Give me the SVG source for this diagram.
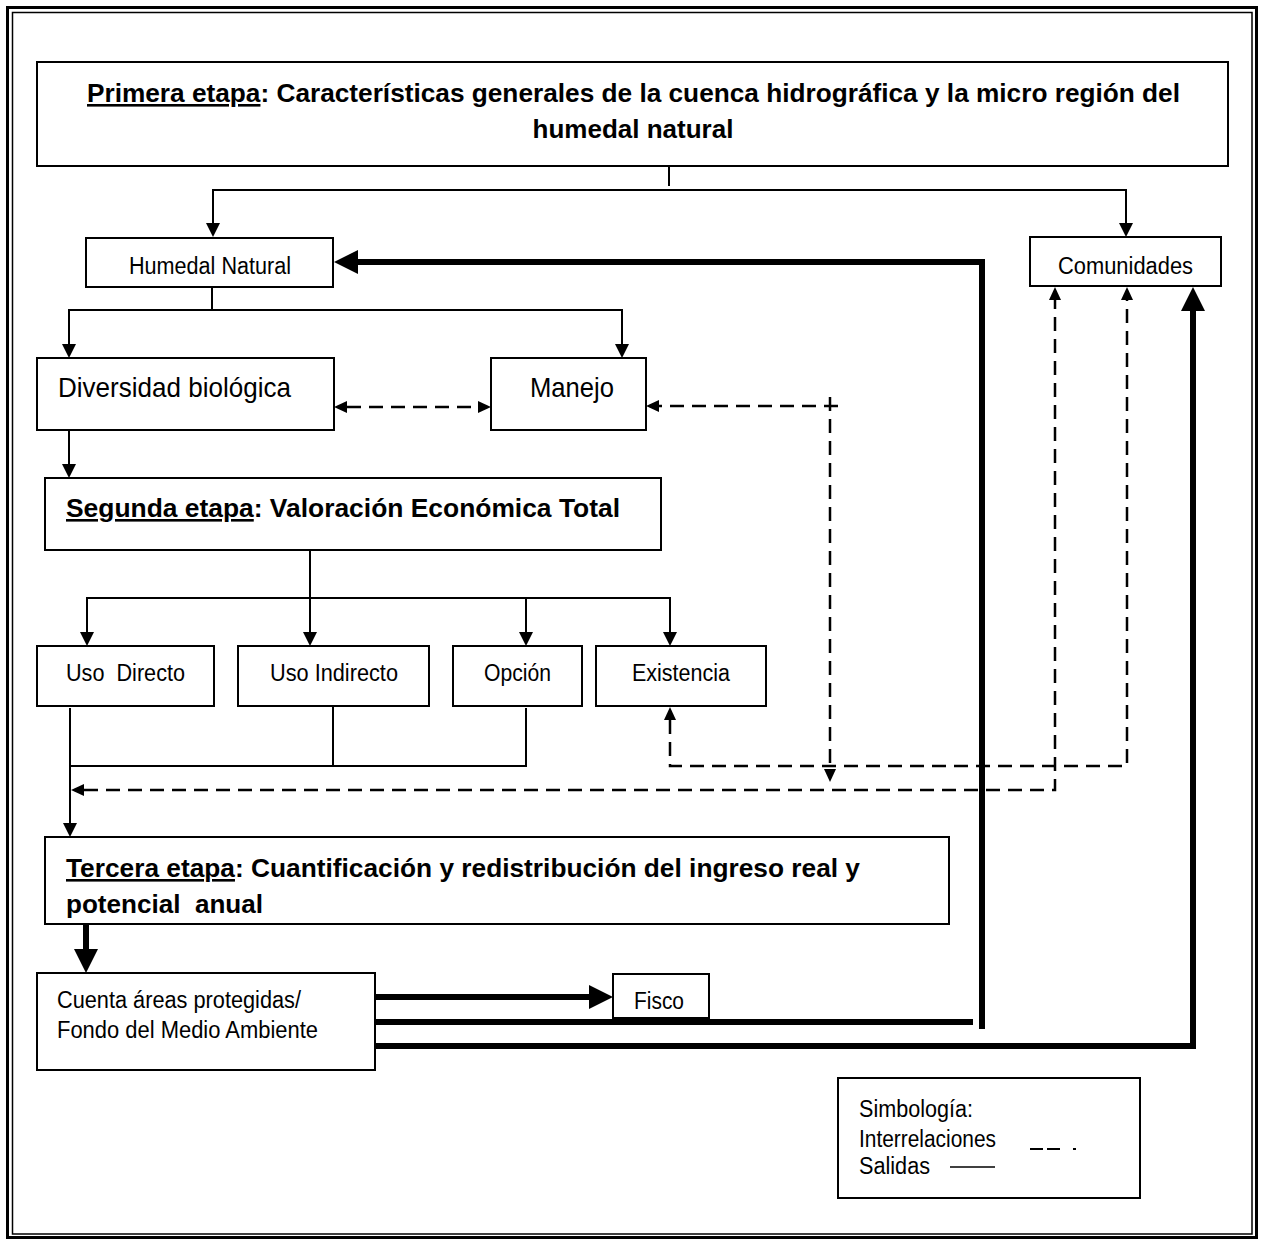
<svg xmlns="http://www.w3.org/2000/svg" width="1267" height="1240" viewBox="0 0 1267 1240">
<style>
.box{fill:#fff;stroke:#000;stroke-width:2}
.t{font-family:"Liberation Sans",Arial,sans-serif;font-size:23px;fill:#000}
.tm{font-size:28px}
.tb{font-weight:bold;font-size:26px}
.pre{white-space:pre}
.u{text-decoration:underline}
.thin{fill:none;stroke:#000;stroke-width:2}
.dash{fill:none;stroke:#000;stroke-width:2.5;stroke-dasharray:14 8}
.thick{fill:none;stroke:#000;stroke-width:6}
.ah{fill:#000;stroke:none}
</style>
<defs>
<marker id="aThin" markerUnits="userSpaceOnUse" markerWidth="14" markerHeight="14" viewBox="0 0 14 14" refX="0" refY="7" orient="auto-start-reverse"><path class="ah" d="M0,0 L14,7 L0,14 Z"/></marker>
<marker id="aDash" markerUnits="userSpaceOnUse" markerWidth="13" markerHeight="12" viewBox="0 0 13 12" refX="0" refY="6" orient="auto-start-reverse"><path class="ah" d="M0,0 L13,6 L0,12 Z"/></marker>
<marker id="aThick" markerUnits="userSpaceOnUse" markerWidth="24" markerHeight="24" viewBox="0 0 24 24" refX="0" refY="12" orient="auto-start-reverse"><path class="ah" d="M0,0 L24,12 L0,24 Z"/></marker>
</defs>
<rect width="1267" height="1240" fill="#fff"/>
<rect x="7.5" y="7.5" width="1249" height="1230" fill="none" stroke="#000" stroke-width="3"/>
<rect x="12.5" y="12.5" width="1239.5" height="1221.5" fill="none" stroke="#000" stroke-width="1.5"/>

<g id="connectors">
<path class="thin" d="M669,166 V186"/>
<path class="thin" d="M669,190 H213 V223" marker-end="url(#aThin)"/>
<path class="thin" d="M669,190 H1126 V223" marker-end="url(#aThin)"/>
<path class="thin" d="M212,287 V310 H69 V344" marker-end="url(#aThin)"/>
<path class="thin" d="M212,310 H622 V344" marker-end="url(#aThin)"/>
<path class="thin" d="M69,430 V464" marker-end="url(#aThin)"/>
<path class="thin" d="M310,550 V598 H87 V632" marker-end="url(#aThin)"/>
<path class="thin" d="M310,598 V632" marker-end="url(#aThin)"/>
<path class="thin" d="M310,598 H670 V632" marker-end="url(#aThin)"/>
<path class="thin" d="M526,598 V632" marker-end="url(#aThin)"/>
<path class="thin" d="M70,708 V823" marker-end="url(#aThin)"/>
<path class="thin" d="M333,694 V766 H70"/>
<path class="thin" d="M526,708 V766 H333"/>

<path class="dash" d="M347,407 H478" marker-start="url(#aDash)" marker-end="url(#aDash)"/>
<path class="dash" d="M838,406 H659" marker-end="url(#aDash)"/>
<path class="dash" d="M830,397 V769" marker-end="url(#aDash)"/>
<path class="dash" d="M84,790 H1055 V300" marker-start="url(#aDash)" marker-end="url(#aDash)"/>
<path class="dash" d="M670,720 V766 H1127 V300" marker-start="url(#aDash)" marker-end="url(#aDash)"/>

<path class="thick" d="M982,1029 V262 H358" marker-end="url(#aThick)"/>
<path class="thick" d="M375,1022 H973"/>
<path class="thick" d="M375,997 H589" marker-end="url(#aThick)"/>
<path class="thick" d="M375,1046 H1193 V311" marker-end="url(#aThick)"/>
<path class="thick" d="M86,925 V949" stroke-width="7" marker-end="url(#aThick)"/>
</g>

<g id="primera">
<rect class="box" x="37" y="62" width="1191" height="104"/>
<text class="t tb" x="87" y="102" textLength="1093" lengthAdjust="spacingAndGlyphs"><tspan class="u">Primera etapa</tspan>: Características generales de la cuenca hidrográfica y la micro región del</text>
<text class="t tb" x="633" y="138" text-anchor="middle">humedal natural</text>
</g>
<g id="humedal">
<rect class="box" x="86" y="238" width="247" height="49"/>
<text class="t" x="129" y="274" textLength="162" lengthAdjust="spacingAndGlyphs">Humedal Natural</text>
</g>
<g id="comunidades">
<rect class="box" x="1030" y="237" width="191" height="49"/>
<text class="t" x="1058" y="274" textLength="135" lengthAdjust="spacingAndGlyphs">Comunidades</text>
</g>
<g id="diversidad">
<rect class="box" x="37" y="358" width="297" height="72"/>
<text class="t tm" x="58" y="397" textLength="233" lengthAdjust="spacingAndGlyphs">Diversidad biológica</text>
</g>
<g id="manejo">
<rect class="box" x="491" y="358" width="155" height="72"/>
<text class="t tm" x="530" y="397" textLength="84" lengthAdjust="spacingAndGlyphs">Manejo</text>
</g>
<g id="segunda">
<rect class="box" x="45" y="478" width="616" height="72"/>
<text class="t tb" x="66" y="517" textLength="554" lengthAdjust="spacingAndGlyphs"><tspan class="u">Segunda etapa</tspan>: Valoración Económica Total</text>
</g>
<g id="uso-directo">
<rect class="box" x="37" y="646" width="177" height="60"/>
<text class="t pre" x="66" y="681" textLength="119" lengthAdjust="spacingAndGlyphs">Uso  Directo</text>
</g>
<g id="uso-indirecto">
<rect class="box" x="238" y="646" width="191" height="60"/>
<text class="t" x="270" y="681" textLength="128" lengthAdjust="spacingAndGlyphs">Uso Indirecto</text>
</g>
<g id="opcion">
<rect class="box" x="453" y="646" width="129" height="60"/>
<text class="t" x="484" y="681" textLength="67" lengthAdjust="spacingAndGlyphs">Opción</text>
</g>
<g id="existencia">
<rect class="box" x="596" y="646" width="170" height="60"/>
<text class="t" x="632" y="681" textLength="98" lengthAdjust="spacingAndGlyphs">Existencia</text>
</g>
<g id="tercera">
<rect class="box" x="45" y="837" width="904" height="87"/>
<text class="t tb" x="66" y="877" textLength="794" lengthAdjust="spacingAndGlyphs"><tspan class="u">Tercera etapa</tspan>: Cuantificación y redistribución del ingreso real y</text>
<text class="t tb pre" x="66" y="913" textLength="197" lengthAdjust="spacingAndGlyphs">potencial  anual</text>
</g>
<g id="cuenta">
<rect class="box" x="37" y="973" width="338" height="97"/>
<text class="t" x="57" y="1008" textLength="244" lengthAdjust="spacingAndGlyphs">Cuenta áreas protegidas/</text>
<text class="t" x="57" y="1038" textLength="261" lengthAdjust="spacingAndGlyphs">Fondo del Medio Ambiente</text>
</g>
<g id="fisco">
<rect class="box" x="613" y="974" width="96" height="44"/>
<text class="t" x="634" y="1009" textLength="50" lengthAdjust="spacingAndGlyphs">Fisco</text>
</g>
<g id="simbologia">
<rect class="box" x="838" y="1078" width="302" height="120"/>
<text class="t" x="859" y="1117" textLength="114" lengthAdjust="spacingAndGlyphs">Simbología:</text>
<text class="t" x="859" y="1147" textLength="137" lengthAdjust="spacingAndGlyphs">Interrelaciones</text>
<text class="t" x="859" y="1174" textLength="71" lengthAdjust="spacingAndGlyphs">Salidas</text>
<path d="M950,1167 H995" stroke="#000" stroke-width="1.5"/>
<path d="M1030,1149 H1043 M1047,1149 H1060 M1073,1149 H1076" stroke="#000" stroke-width="2"/>
</g>
</svg>
